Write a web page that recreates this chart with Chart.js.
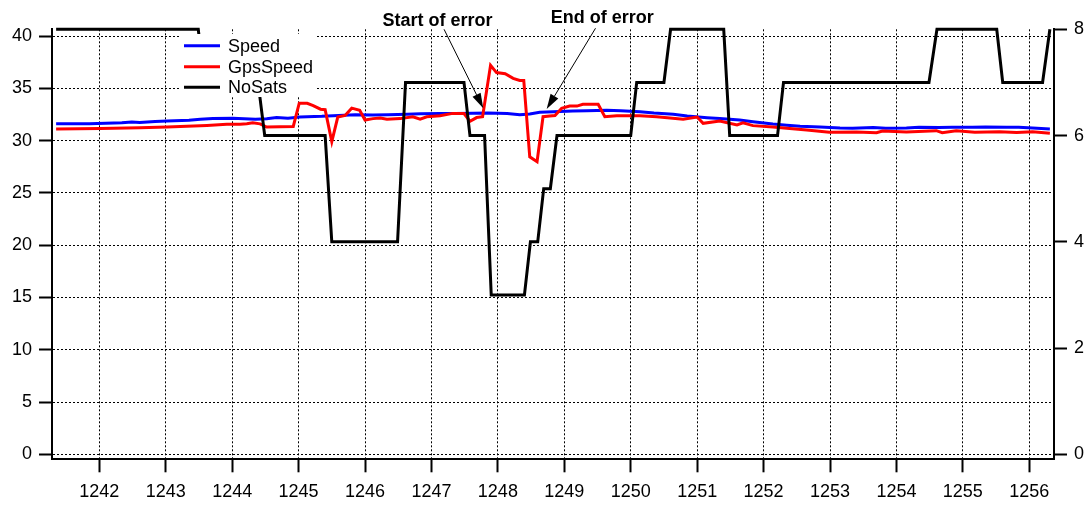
<!DOCTYPE html>
<html>
<head>
<meta charset="utf-8">
<script src="https://cdn.jsdelivr.net/npm/chart.js@4"></script>
<style>
  html, body { margin: 0; padding: 0; background: #fff; }
  #wrap { width: 1091px; height: 506px; position: relative; }
</style>
</head>
<body>
<div id="wrap"><canvas id="chart"></canvas></div>
<script>
// values
const speedTime = [1241.35, 1241.85, 1242.34, 1242.49, 1242.61, 1242.84, 1243.02, 1243.35, 1243.52, 1243.71,
  1244.01, 1244.35, 1244.52, 1244.67, 1244.84, 1245.02, 1245.35, 1245.52, 1245.85, 1246.12,
  1246.35, 1246.63, 1246.84, 1247.13, 1247.35, 1247.63, 1247.85, 1248.14, 1248.33, 1248.48,
  1248.63, 1248.84, 1249.13, 1249.34, 1249.64, 1249.85, 1250.14, 1250.35, 1250.64, 1250.85,
  1251.15, 1251.34, 1251.64, 1251.84, 1252.14, 1252.35, 1252.55, 1252.85, 1253.15, 1253.34,
  1253.65, 1253.84, 1254.15, 1254.34, 1254.64, 1254.84, 1255.14, 1255.34, 1255.66, 1255.84,
  1256.05, 1256.31];
const speedValues = [31.60, 31.62, 31.70, 31.78, 31.74, 31.82, 31.88, 31.95, 32.05, 32.12,
  32.13, 32.04, 32.08, 32.20, 32.14, 32.25, 32.32, 32.38, 32.46, 32.44,
  32.48, 32.52, 32.56, 32.60, 32.60, 32.62, 32.63, 32.60, 32.48, 32.55,
  32.70, 32.75, 32.82, 32.86, 32.90, 32.86, 32.76, 32.64, 32.52, 32.34,
  32.18, 32.10, 31.96, 31.80, 31.58, 31.46, 31.36, 31.30, 31.20, 31.18,
  31.24, 31.18, 31.20, 31.27, 31.24, 31.28, 31.28, 31.30, 31.28, 31.28,
  31.20, 31.10];

const gpsTime = [1241.35, 1242.01, 1242.61, 1243.02, 1243.62, 1243.92, 1244.12, 1244.22, 1244.31, 1244.42,
  1244.52, 1244.72, 1244.92, 1245.01, 1245.13, 1245.22, 1245.33, 1245.40, 1245.50, 1245.59,
  1245.70, 1245.80, 1245.92, 1246.00, 1246.12, 1246.23, 1246.33, 1246.53, 1246.72, 1246.83,
  1246.93, 1247.13, 1247.32, 1247.49, 1247.58, 1247.68, 1247.77, 1247.89, 1247.98, 1248.11,
  1248.23, 1248.33, 1248.39, 1248.48, 1248.59, 1248.68, 1248.78, 1248.86, 1248.96, 1249.08,
  1249.19, 1249.28, 1249.51, 1249.61, 1249.79, 1250.14, 1250.39, 1250.79, 1251.00, 1251.09,
  1251.34, 1251.60, 1251.69, 1251.84, 1252.14, 1252.35, 1252.65, 1252.99, 1253.40, 1253.70,
  1253.79, 1254.15, 1254.60, 1254.69, 1254.90, 1255.18, 1255.55, 1255.81, 1256.05, 1256.31];
const gpsValues = [31.10, 31.15, 31.23, 31.30, 31.45, 31.55, 31.56, 31.62, 31.70, 31.60,
  31.30, 31.33, 31.35, 33.57, 33.57, 33.35, 33.00, 32.95, 29.90, 32.25,
  32.40, 33.10, 32.90, 31.97, 32.10, 32.15, 32.04, 32.10, 32.28, 32.05,
  32.28, 32.38, 32.60, 32.58, 31.85, 32.20, 32.28, 37.20, 36.50, 36.40,
  35.95, 35.75, 35.75, 28.45, 27.98, 32.28, 32.35, 32.40, 33.09, 33.30,
  33.30, 33.47, 33.47, 32.28, 32.38, 32.38, 32.28, 32.05, 32.25, 31.65,
  31.87, 31.50, 31.70, 31.43, 31.30, 31.17, 31.01, 30.80, 30.82, 30.75,
  30.92, 30.82, 30.95, 30.75, 30.93, 30.80, 30.85, 30.78, 30.85, 30.70];

const satsTime = [1241.35, 1243.49, 1243.58, 1244.39, 1244.49, 1245.40, 1245.50, 1246.49, 1246.61, 1247.49,
  1247.58, 1247.80, 1247.90, 1248.40, 1248.49, 1248.60, 1248.69, 1248.79, 1248.89, 1250.00,
  1250.09, 1250.50, 1250.60, 1251.40, 1251.49, 1252.21, 1252.30, 1254.49, 1254.61, 1255.51,
  1255.60, 1256.20, 1256.31];
const satsValues = [8, 8, 7, 7, 6, 6, 4, 4, 7, 7,
  6, 6, 3, 3, 4, 4, 5, 5, 6, 6,
  7, 7, 8, 8, 6, 6, 7, 7, 8, 8,
  7, 7, 8];

const xTicks = [1242, 1243, 1244, 1245, 1246, 1247, 1248, 1249, 1250, 1251, 1252, 1253, 1254, 1255, 1256];
const leftTicks = [0, 5, 10, 15, 20, 25, 30, 35, 40];
const rightTicks = [0, 2, 4, 6, 8];

const seriesNames = ["Speed", "GpsSpeed", "NoSats"];
const seriesColors = ["#0000ff", "#ff0000", "#000000"];

// annotations, in data units
const notes = [
  { text: "Start of error", tx: 1247.09, ty: 40.98, fx: 1247.19, fy: 40.64, ax: 1247.78, ay: 33.09 },
  { text: "End of error", tx: 1249.57, ty: 41.27, fx: 1249.47, fy: 40.74, ax: 1248.735, ay: 33.02 },
];

const FONT = "'Liberation Sans', Arial, Helvetica, sans-serif";

function pairs(xs, ys) {
  return xs.map((x, i) => ({ x: x, y: ys[i] }));
}

const overlay = {
  id: "overlay",
  afterDraw(chart) {
    const ctx = chart.ctx;
    const x = chart.scales.x;
    const y = chart.scales.y;
    ctx.save();

    // legend
    ctx.fillStyle = "#fff";
    ctx.fillRect(181, 34, 136, 63);
    const rows = [45.7, 66.7, 87.3];
    ctx.font = "18px " + FONT;
    ctx.textBaseline = "middle";
    ctx.textAlign = "left";
    seriesNames.forEach((name, i) => {
      ctx.strokeStyle = seriesColors[i];
      ctx.lineWidth = 3;
      ctx.beginPath();
      ctx.moveTo(184, rows[i]);
      ctx.lineTo(220, rows[i]);
      ctx.stroke();
      ctx.fillStyle = "#000";
      ctx.fillText(name, 228, rows[i] + 1);
    });

    // annotations with arrows
    ctx.font = "bold 18px " + FONT;
    ctx.textAlign = "center";
    ctx.textBaseline = "alphabetic";
    notes.forEach(n => {
      ctx.fillStyle = "#000";
      ctx.fillText(n.text, x.getPixelForValue(n.tx), y.getPixelForValue(n.ty));
      const x1 = x.getPixelForValue(n.fx), y1 = y.getPixelForValue(n.fy);
      const x2 = x.getPixelForValue(n.ax), y2 = y.getPixelForValue(n.ay);
      const ang = Math.atan2(y2 - y1, x2 - x1);
      const len = 15, hw = 4.5;
      const bx = x2 - len * Math.cos(ang), by = y2 - len * Math.sin(ang);
      ctx.strokeStyle = "#000";
      ctx.lineWidth = 1;
      ctx.beginPath();
      ctx.moveTo(x1, y1);
      ctx.lineTo(bx, by);
      ctx.stroke();
      ctx.beginPath();
      ctx.moveTo(x2, y2);
      ctx.lineTo(bx + hw * Math.sin(ang), by - hw * Math.cos(ang));
      ctx.lineTo(bx - hw * Math.sin(ang), by + hw * Math.cos(ang));
      ctx.closePath();
      ctx.fill();
    });
    ctx.restore();
  },
};

new Chart(document.getElementById("chart"), {
  type: "line",
  data: {
    datasets: [
      {
        label: seriesNames[0],
        data: pairs(speedTime, speedValues),
        borderColor: seriesColors[0],
        borderWidth: 3,
        pointRadius: 0,
        yAxisID: "y",
        order: 2,
        clip: 4,
      },
      {
        label: seriesNames[1],
        data: pairs(gpsTime, gpsValues),
        borderColor: seriesColors[1],
        borderWidth: 3,
        pointRadius: 0,
        yAxisID: "y",
        order: 1,
        clip: 4,
      },
      {
        label: seriesNames[2],
        data: pairs(satsTime, satsValues),
        borderColor: seriesColors[2],
        borderWidth: 3,
        pointRadius: 0,
        yAxisID: "y2",
        order: 0,
        clip: 4,
      },
    ],
  },
  options: {
    responsive: true,
    maintainAspectRatio: false,
    animation: false,
    events: [],
    layout: { padding: { top: 29.3, left: 0, right: 0, bottom: 0 } },
    elements: { line: { tension: 0, borderJoinStyle: "miter" } },
    scales: {
      x: {
        type: "linear",
        position: "bottom",
        min: 1241.288,
        max: 1256.372,
        afterBuildTicks: s => { s.ticks = xTicks.map(v => ({ value: v })); },
        afterFit: s => { s.height = 46.7; },
        border: { display: true, color: "#000", width: 2, dash: [2, 2] },
        grid: { color: "#000", lineWidth: 1, tickColor: "#000", tickWidth: 2, tickLength: 13 },
        ticks: {
          color: "#000",
          font: { size: 18, family: FONT },
          padding: 9,
          maxRotation: 0,
          autoSkip: false,
          callback: v => String(v),
        },
      },
      y: {
        type: "linear",
        position: "left",
        min: -0.478,
        max: 40.641,
        afterBuildTicks: s => { s.ticks = leftTicks.map(v => ({ value: v })); },
        afterFit: s => { s.width = 52; },
        border: { display: true, color: "#000", width: 2, dash: [2, 2] },
        grid: { color: "#000", lineWidth: 1, tickColor: "#000", tickWidth: 2, tickLength: 13 },
        ticks: { color: "#000", font: { size: 18, family: FONT }, padding: 7, autoSkip: false, callback: v => String(v) },
      },
      y2: {
        type: "linear",
        position: "right",
        min: -0.094,
        max: 8,
        afterBuildTicks: s => { s.ticks = rightTicks.map(v => ({ value: v })); },
        afterFit: s => { s.width = 37; },
        border: { display: true, color: "#000", width: 2 },
        grid: { drawOnChartArea: false, color: "#000", tickColor: "#000", tickWidth: 2, tickLength: 13 },
        ticks: { color: "#000", font: { size: 18, family: FONT }, padding: 7, autoSkip: false, callback: v => String(v) },
      },
    },
    plugins: {
      legend: { display: false },
      tooltip: { enabled: false },
    },
  },
  plugins: [overlay],
});
</script>
</body>
</html>
